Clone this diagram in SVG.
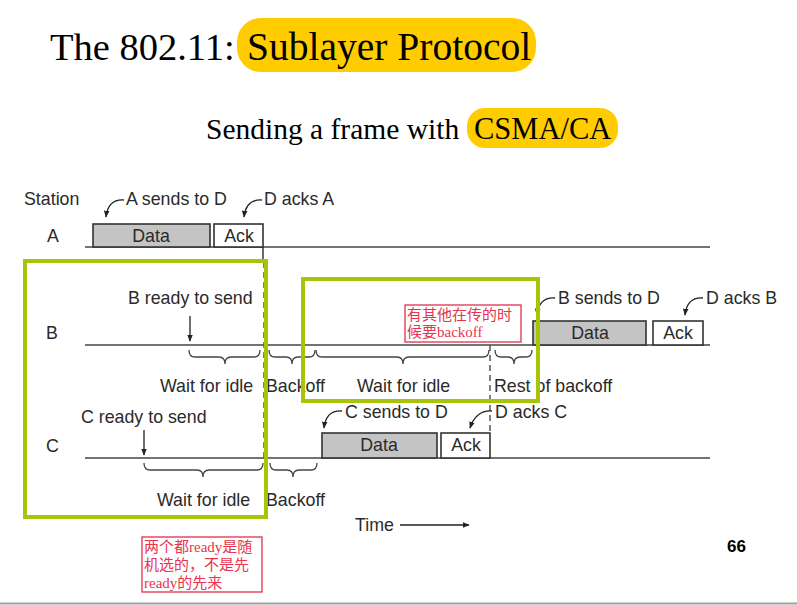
<svg xmlns="http://www.w3.org/2000/svg" width="797" height="605" viewBox="0 0 797 605">
<defs>
<marker id="ah" viewBox="0 0 10 10" refX="9" refY="5" markerWidth="7" markerHeight="7" orient="auto-start-reverse" markerUnits="userSpaceOnUse">
<path d="M0,1 L10,5 L0,9 z" fill="#222"/>
</marker>
<style>
.t{font-family:"Liberation Sans",Arial,sans-serif;font-size:17.8px;fill:#2a2a2a}
.tl{stroke:#444;stroke-width:1.6;fill:none}
.box{stroke:#333;stroke-width:1.6}
.data{fill:#c4c4c4}
.ack{fill:#fff}
.br{stroke:#444;stroke-width:1.3;fill:none}
.cv{stroke:#222;stroke-width:1.3;fill:none}
.dash{stroke:#555;stroke-width:1.5;stroke-dasharray:6,4;fill:none}
.grn{fill:none;stroke:#a9c20a;stroke-width:4}
.red{fill:#fff;stroke:#e0304a;stroke-width:1.3}
.rt{font-family:"Liberation Serif","Noto Sans CJK SC",serif;font-size:15px;fill:#e8344e}
.hl{fill:#ffcc00}
.ser{font-family:"Liberation Serif","Times New Roman",serif;fill:#000}
</style>
</defs>
<rect width="797" height="605" fill="#fff"/>
<g id="title">
<rect class="hl" x="237" y="18" width="299" height="54" rx="24"/>
<text class="ser" x="50" y="60" font-size="38.5">The 802.11:</text>
<text class="ser" x="247" y="60" font-size="39.5">Sublayer Protocol</text>
</g>
<g id="subtitle">
<rect class="hl" x="467" y="108" width="151" height="40" rx="18"/>
<text class="ser" x="206" y="139" font-size="29.5">Sending a frame with</text>
<text class="ser" x="474" y="139" font-size="30.5">CSMA/CA</text>
</g>
<g id="labels">
<text class="t" x="24" y="205">Station</text>
<text class="t" x="47" y="242">A</text>
<text class="t" x="46" y="339">B</text>
<text class="t" x="46" y="452">C</text>
</g>
<g id="connectors">
<line class="tl" x1="85" y1="247" x2="710" y2="247"/>
<line class="tl" x1="85" y1="345" x2="710" y2="345"/>
<line class="tl" x1="85" y1="458" x2="710" y2="458"/>
<line class="tl" x1="263" y1="247" x2="263" y2="262"/>
<line class="dash" x1="264" y1="262" x2="264" y2="458"/>
<line class="dash" x1="490" y1="345" x2="490" y2="432"/>
<path class="cv" d="M124,200 Q108,199 106,217" marker-end="url(#ah)"/>
<path class="cv" d="M262,200 Q246,199 244,217" marker-end="url(#ah)"/>
<path class="cv" d="M555,298 Q539,297 537,315" marker-end="url(#ah)"/>
<path class="cv" d="M703,298 Q687,297 685,315" marker-end="url(#ah)"/>
<path class="cv" d="M342,411 Q326,410 324,428" marker-end="url(#ah)"/>
<path class="cv" d="M492,411 Q476,410 470,428" marker-end="url(#ah)"/>
<line class="cv" x1="190" y1="316" x2="190" y2="341" marker-end="url(#ah)"/>
<line class="cv" x1="144" y1="430" x2="144" y2="455" marker-end="url(#ah)"/>
<line stroke="#222" stroke-width="1.6" x1="400" y1="525" x2="469" y2="525" marker-end="url(#ah)"/>
<path class="br" d="M189,350 Q189,357 195,357 L219,357 Q225,357 225,364 Q225,357 231,357 L254,357 Q260,357 260,350"/>
<path class="br" d="M269,350 Q269,357 275,357 L286,357 Q292,357 292,364 Q292,357 298,357 L309,357 Q315,357 315,350"/>
<path class="br" d="M316,350 Q316,357 322,357 L397,357 Q403,357 403,364 Q403,357 409,357 L483,357 Q489,357 489,350"/>
<path class="br" d="M495,350 Q495,357 501,357 L508,357 Q514,357 514,364 Q514,357 520,357 L526,357 Q532,357 532,350"/>
<path class="br" d="M144,463 Q144,470 150,470 L197,470 Q203,470 203,477 Q203,470 209,470 L257,470 Q263,470 263,463"/>
<path class="br" d="M270,463 Q270,470 276,470 L287,470 Q293,470 293,477 Q293,470 299,470 L311,470 Q317,470 317,463"/>
</g>
<g id="frameA">
<rect class="box data" x="93" y="224" width="117" height="23"/>
<text class="t" x="151" y="242" text-anchor="middle">Data</text>
<rect class="box ack" x="214" y="224" width="49" height="23"/>
<text class="t" x="239" y="242" text-anchor="middle">Ack</text>
<text class="t" x="126" y="205">A sends to D</text>
<text class="t" x="264" y="205">D acks A</text>
</g>
<g id="frameB">
<rect class="box data" x="533" y="321" width="113" height="24"/>
<text class="t" x="590" y="339" text-anchor="middle">Data</text>
<rect class="box ack" x="653" y="321" width="50" height="24"/>
<text class="t" x="678" y="339" text-anchor="middle">Ack</text>
<text class="t" x="558" y="304">B sends to D</text>
<text class="t" x="706" y="304">D acks B</text>
<text class="t" x="128" y="304">B ready to send</text>
<text class="t" x="160" y="392">Wait for idle</text>
<text class="t" x="266" y="392">Backoff</text>
<text class="t" x="357" y="392">Wait for idle</text>
<text class="t" x="494" y="392">Rest of backoff</text>
</g>
<g id="frameC">
<rect class="box data" x="322" y="433" width="115" height="25"/>
<text class="t" x="379" y="451" text-anchor="middle">Data</text>
<rect class="box ack" x="441" y="433" width="49" height="25"/>
<text class="t" x="466" y="451" text-anchor="middle">Ack</text>
<text class="t" x="345" y="418">C sends to D</text>
<text class="t" x="495" y="418">D acks C</text>
<text class="t" x="81" y="423">C ready to send</text>
<text class="t" x="157" y="506">Wait for idle</text>
<text class="t" x="266" y="506">Backoff</text>
</g>
<g id="time">
<text class="t" x="355" y="531">Time</text>
</g>
<g id="highlight1"><rect class="grn" x="25" y="261" width="241" height="256"/></g>
<g id="highlight2"><rect class="grn" x="303" y="279" width="235" height="122"/></g>
<g id="note1">
<rect class="red" x="405" y="305" width="116" height="37"/>
<text class="rt" x="407" y="320">有其他在传的时</text>
<text class="rt" x="407" y="337">候要backoff</text>
</g>
<g id="note2">
<rect class="red" x="142" y="537" width="120" height="55"/>
<text class="rt" x="144" y="552">两个都ready是随</text>
<text class="rt" x="144" y="570">机选的，不是先</text>
<text class="rt" x="144" y="588">ready的先来</text>
</g>
<g id="page">
<text x="727" y="552" font-family="'Liberation Sans',Arial,sans-serif" font-size="17" font-weight="bold" fill="#000">66</text>
<line x1="0" y1="603.5" x2="797" y2="603.5" stroke="#a0a0a0" stroke-width="2"/>
</g>
</svg>
